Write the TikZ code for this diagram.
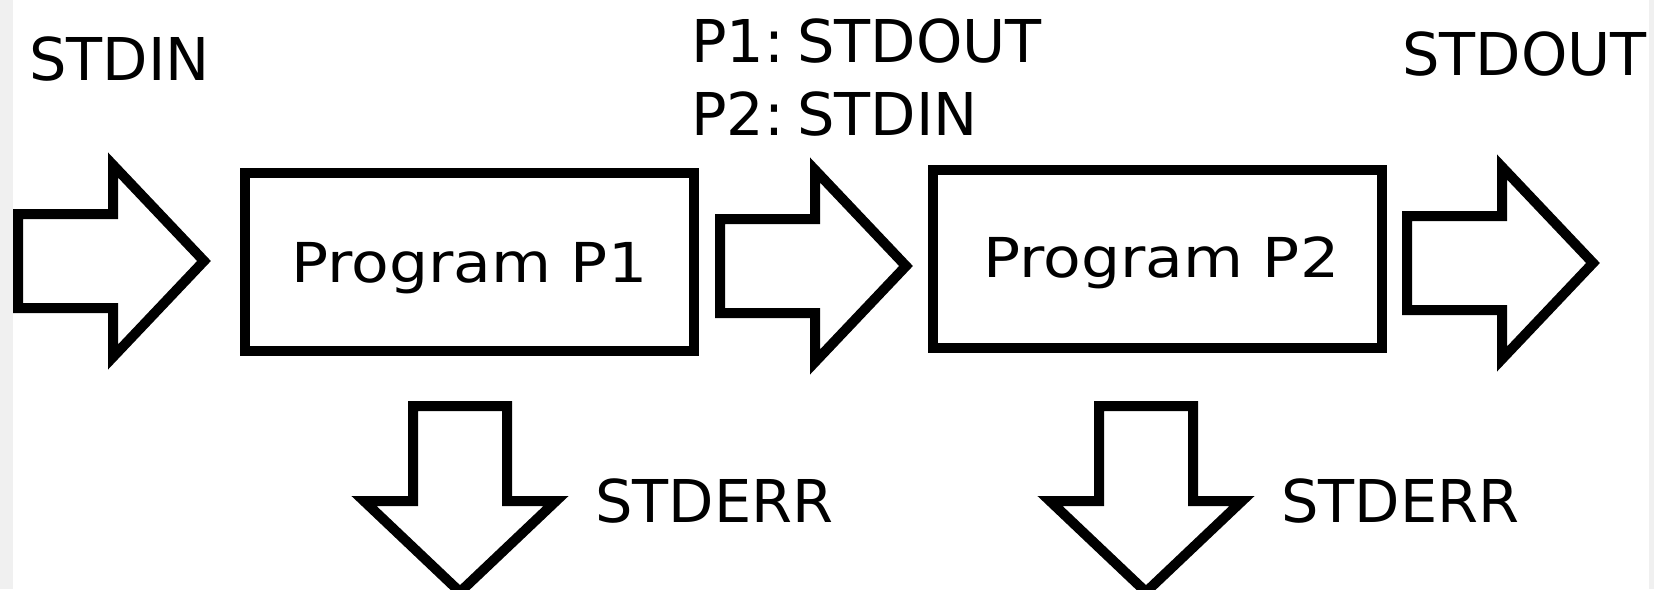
\documentclass[tikz,border=0pt]{standalone}
\usepackage{fontspec}
\setmainfont{DejaVu Sans}
\newfontfamily\lblfont{DejaVu Sans}
\newfontfamily\progfont[FakeStretch=1.12]{DejaVu Sans}
\begin{document}
\begin{tikzpicture}[x=0.5pt,y=-0.5pt,
  outline/.style={draw=black,line width=5pt,miter limit=10},
  progbox/.style={outline,fill=white,minimum width=224.5pt,minimum height=89pt,inner sep=0pt},
  lbl/.style={anchor=base west,inner sep=0pt,font=\lblfont\fontsize{29.5}{35}\selectfont},
  proglbl/.style={anchor=base west,inner sep=0pt,font=\progfont\fontsize{27.5}{35}\selectfont},
  rarrow/.pic={\draw[outline,fill=white] (0,-47) -- (95,-47) -- (95,-96) -- (186,0) -- (95,96) -- (95,47) -- (0,47) -- cycle;},
  darrow/.pic={\draw[outline,fill=white] (-47,0) -- (-47,95) -- (-96,95) -- (0,186) -- (96,95) -- (47,95) -- (47,0) -- cycle;}
]
\useasboundingbox (0,0) rectangle (1654,589);
\fill[white] (0,0) rectangle (1654,589);
\fill[black!6] (0,0) rectangle (13,589);
\fill[black!6] (1649,0) rectangle (1654,589);

% program boxes
\node[progbox] (p1) at (469.5,262) {};
\node[progbox] (p2) at (1157.5,259) {};
\node[proglbl] (p1t) at (291,282) {Program P1};
\node[proglbl] (p2t) at (983,277) {Program P2};

% arrow positions
\coordinate (ain) at (18,261);
\coordinate (amid) at (720,266);
\coordinate (aout) at (1407,263);
\coordinate (aerr1) at (460,406);
\coordinate (aerr2) at (1146,406);
\pic at (ain) {rarrow};
\pic at (amid) {rarrow};
\pic at (aout) {rarrow};
\pic at (aerr1) {darrow};
\pic at (aerr2) {darrow};

% labels
\node[lbl] (lin) at (29,80) {STDIN};
\node[lbl] (lmid1) at (691,62) {P1:\hspace{0.22em}STDOUT};
\node[lbl] (lmid2) at (691,135) {P2:\hspace{0.22em}STDIN};
\node[lbl] (lout) at (1402,75) {STDOUT};
\node[lbl] (lerr1) at (595,522) {STDERR};
\node[lbl] (lerr2) at (1281,522) {STDERR};
\end{tikzpicture}
\end{document}
